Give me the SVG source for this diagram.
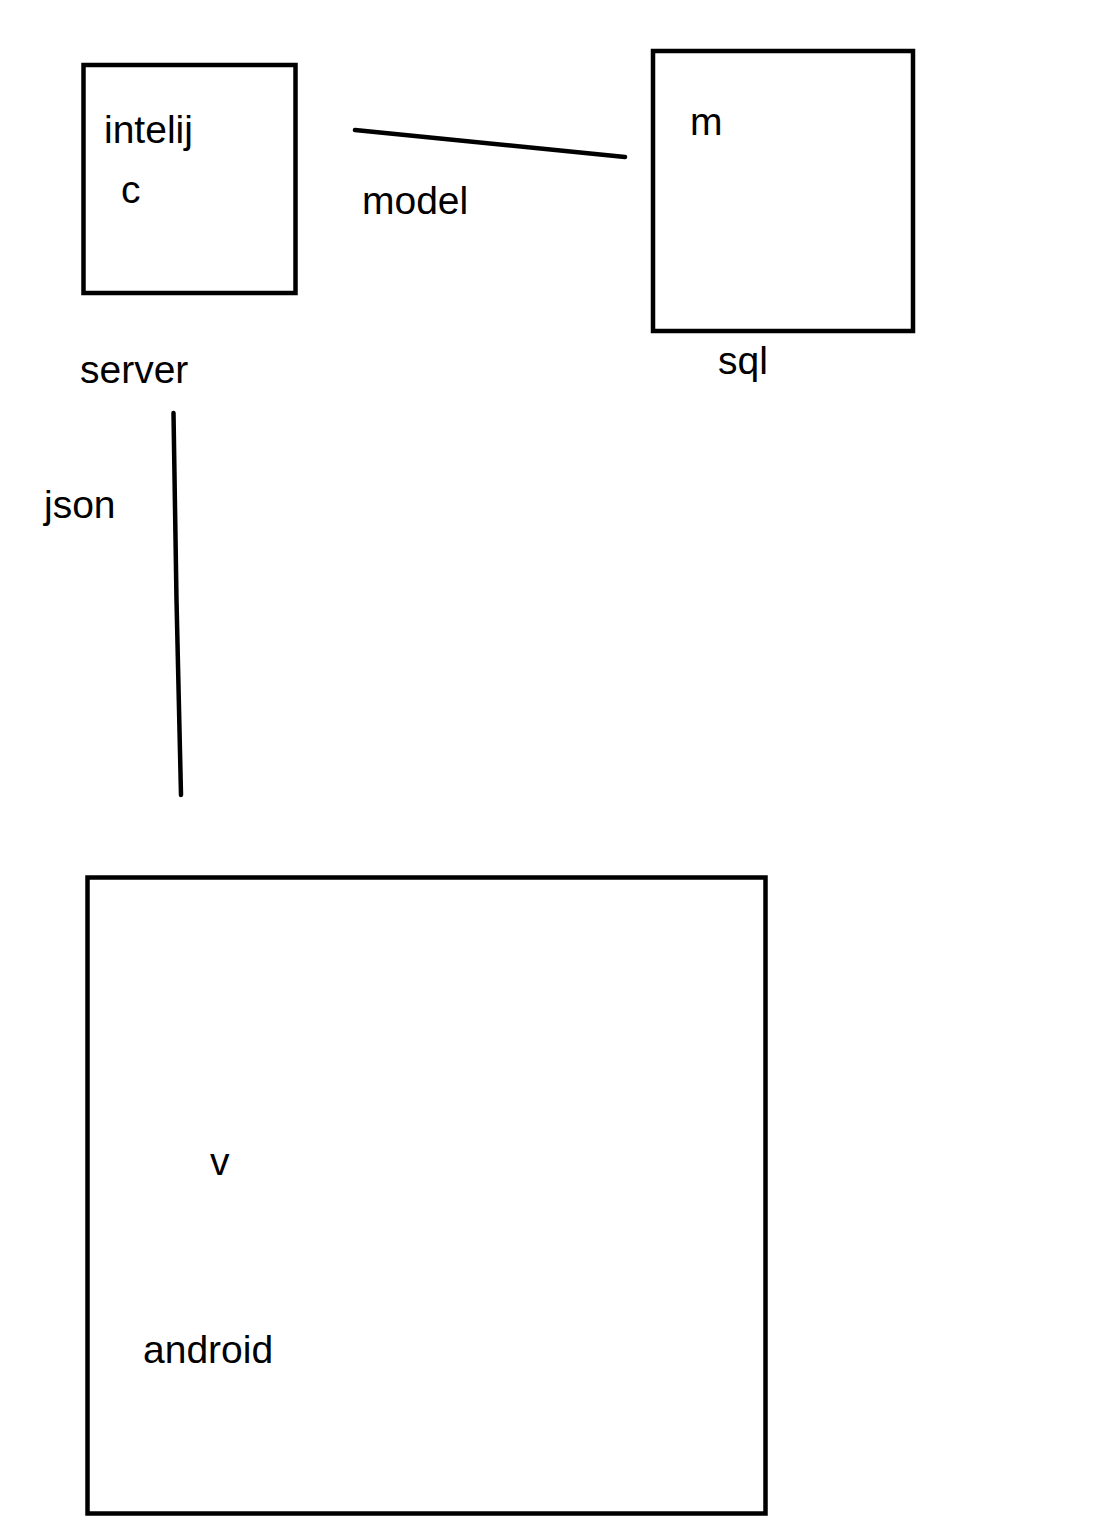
<svg xmlns="http://www.w3.org/2000/svg" width="1098" height="1534" viewBox="0 0 1098 1534">
<style>
.box{fill:none;stroke:#000;stroke-width:4.5}
.ln{fill:none;stroke:#000;stroke-width:4.5;stroke-linecap:round}
text{font-family:"Liberation Sans",Arial,sans-serif;font-size:39px;fill:#000}
</style>
<rect width="1098" height="1534" fill="#fff"/>
<g id="intelij">
<rect class="box" x="83.5" y="65" width="212" height="228"/>
<text x="104" y="143">intelij</text>
<text x="121" y="203">c</text>
<text x="80" y="383">server</text>
</g>
<g id="mysql">
<rect class="box" x="653" y="51" width="260" height="280"/>
<text x="690" y="135">m</text>
<text x="718" y="374">sql</text>
</g>
<g id="android">
<rect class="box" x="87.5" y="877.5" width="678" height="636"/>
<text x="210" y="1175">v</text>
<text x="143" y="1363">android</text>
</g>
<g id="connectors">
<path class="ln" d="M355 130 L625 157"/>
<text x="362" y="214">model</text>
<path class="ln" d="M173.5 413 L176.5 600 L181 795"/>
<text x="44" y="518">json</text>
</g>
</svg>
